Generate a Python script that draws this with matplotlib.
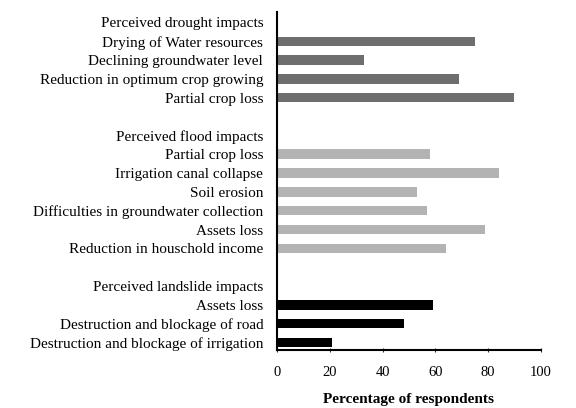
import matplotlib.pyplot as plt

plt.rcParams['font.family'] = ['Liberation Serif', 'DejaVu Serif']

drought_labels = ['Drying of Water resources', 'Declining groundwater level',
                  'Reduction in optimum crop growing', 'Partial crop loss']
drought_values = [75, 33, 69, 90]

flood_labels = ['Partial crop loss', 'Irrigation canal collapse', 'Soil erosion',
                'Difficulties in groundwater collection', 'Assets loss',
                'Reduction in houschold income']
flood_values = [58, 84, 53, 57, 79, 64]

landslide_labels = ['Assets loss', 'Destruction and blockage of road',
                    'Destruction and blockage of irrigation']
landslide_values = [59, 48, 21]

groups = [
    ('Perceived drought impacts', drought_labels, drought_values, '#6e6e6e'),
    ('Perceived flood impacts', flood_labels, flood_values, '#b3b3b3'),
    ('Perceived landslide impacts', landslide_labels, landslide_values, '#000000'),
]

fig = plt.figure(figsize=(5.76, 4.08), dpi=100)
ax = fig.add_axes([0.481, 0.142, 0.458, 0.829])

ylabels = []
pos = 0
for gi, (header, labels, values, color) in enumerate(groups):
    ylabels.append((pos, header))
    pos += 1
    for lab, val in zip(labels, values):
        ax.barh(pos, val, height=0.5, color=color)
        ylabels.append((pos, lab))
        pos += 1
    if gi < len(groups) - 1:
        pos += 1

ax.set_yticks([p for p, _ in ylabels])
ax.set_yticklabels([t for _, t in ylabels], fontsize=11)
ax.tick_params(axis='y', length=0, pad=10)
ax.set_ylim(pos - 1 + 0.4, -0.56)

ax.set_xlim(0, 100)
ax.set_xticks(range(0, 101, 20))
ax.tick_params(axis='x', labelsize=10.5, length=3, direction='inout', color='#333333', pad=10)
ax.set_xlabel('Percentage of respondents', fontsize=11, fontweight='bold', labelpad=10)

for s in ['top', 'right']:
    ax.spines[s].set_visible(False)
ax.spines['left'].set_linewidth(1.5)
ax.spines['bottom'].set_linewidth(1.5)

fig.savefig('out.png', dpi=100)
